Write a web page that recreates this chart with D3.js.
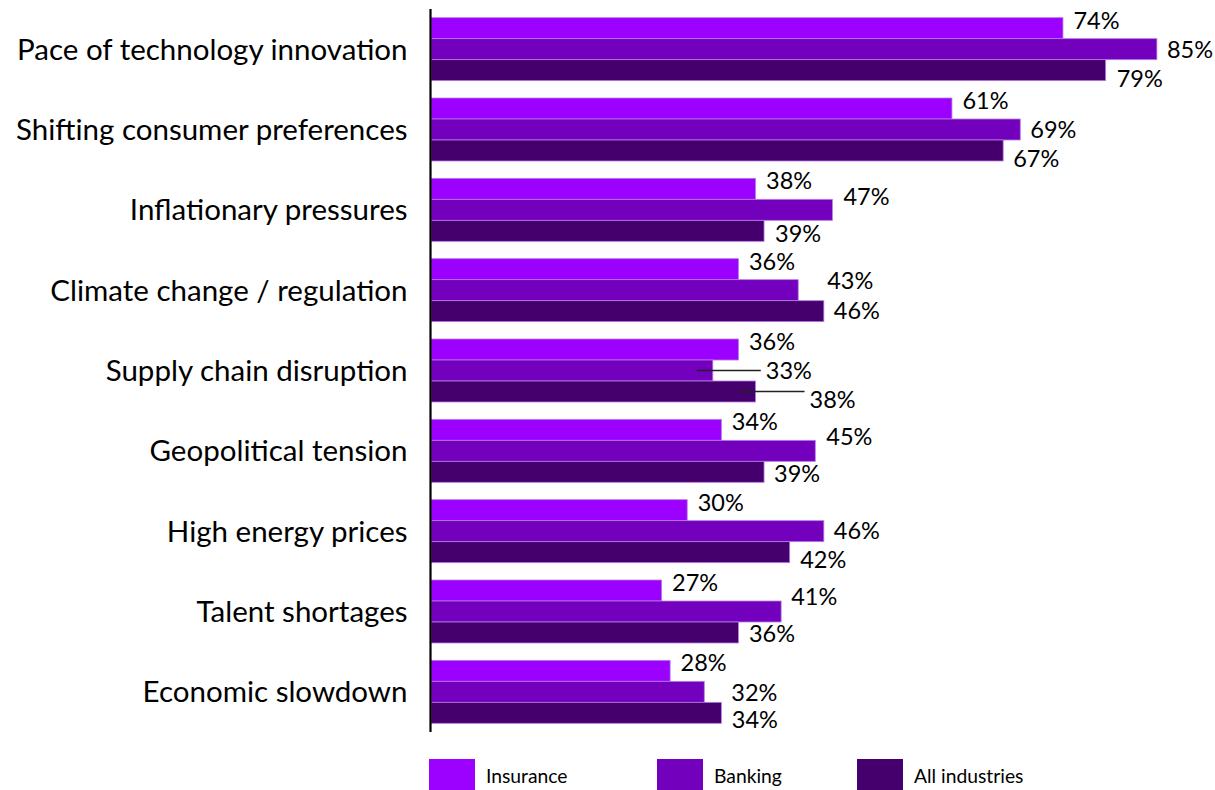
<!DOCTYPE html>
<html>
<head>
<meta charset="utf-8">
<script src="https://cdn.jsdelivr.net/npm/d3@7"></script>
<style>
  html, body { margin: 0; padding: 0; background: #fff; }
  svg { display: block; }
  text { font-family: Lato, "Open Sans", sans-serif; fill: #000; }
</style>
</head>
<body>
<svg id="chart" width="1215" height="790"></svg>
<script>
// Share of respondents citing each trend, by sector (%)
const categories = [
  "Pace of technology innovation",
  "Shifting consumer preferences",
  "Inflationary pressures",
  "Climate change / regulation",
  "Supply chain disruption",
  "Geopolitical tension",
  "High energy prices",
  "Talent shortages",
  "Economic slowdown"
];
const seriesNames = ["Insurance", "Banking", "All industries"];
const insurance     = [74, 61, 38, 36, 36, 34, 30, 27, 28];
const banking       = [85, 69, 47, 43, 33, 45, 46, 41, 32];
const allIndustries = [79, 67, 39, 46, 38, 39, 42, 36, 34];
const seriesValues = [insurance, banking, allIndustries];

// Layout
const colors = ["#9c00ff", "#7200bc", "#46006e"];
const plot = { left: 431, top: 9, bottom: 732, pxPerUnit: 8.54 };
const catLabelX = 408;

// Data-label nudges: [dx from bar end, baseline offset from bar centre]
const labelNudge = [
  categories.map(() => [10.5, 0.5]),
  [[10,8.5],[10,8.5],[11,-5],[29,-1],[53,8],[11,-6],[10,8],[10,-6.5],[27,9]],
  [[11,16.5],[10,16.5],[11,11],[10,8],[54,17],[10,10.5],[10.5,15.5],[10.5,10],[10.5,15.5]]
];
// Labels moved away from their bar get a leader line
const leaders = [[1, 4], [2, 4]];

const svg = d3.select("#chart");

const x = d3.scaleLinear().domain([0, 100]).range([plot.left, plot.left + 100 * plot.pxPerUnit]);
const y = d3.scaleBand().domain(categories).range([plot.top, plot.bottom])
  .paddingInner(0.216).paddingOuter(0.108);
const ySub = d3.scaleBand().domain(seriesNames).range([0, y.bandwidth()]);

// Bars
seriesNames.forEach((name, si) => {
  svg.append("g").selectAll("rect")
    .data(categories)
    .join("rect")
    .attr("x", x(0))
    .attr("y", c => y(c) + ySub(name))
    .attr("width", (c, i) => x(seriesValues[si][i]) - x(0))
    .attr("height", ySub.bandwidth())
    .attr("fill", colors[si])
    .attr("stroke", "#b77ce6")
    .attr("stroke-width", 0.8);
});

// Leader lines
leaders.forEach(([si, ci]) => {
  const c = categories[ci];
  const name = seriesNames[si];
  const end = x(seriesValues[si][ci]);
  const cy = y(c) + ySub(name) + ySub.bandwidth() / 2;
  svg.append("line")
    .attr("x1", end - 16).attr("x2", end + labelNudge[si][ci][0] - 5)
    .attr("y1", cy).attr("y2", cy)
    .attr("stroke", "#222").attr("stroke-width", 1.3);
});

// Value labels
seriesNames.forEach((name, si) => {
  svg.append("g").selectAll("text")
    .data(categories)
    .join("text")
    .attr("x", (c, i) => x(seriesValues[si][i]) + labelNudge[si][i][0])
    .attr("y", (c, i) => y(c) + ySub(name) + ySub.bandwidth() / 2 + labelNudge[si][i][1])
    .attr("font-size", 23.5)
    .text((c, i) => seriesValues[si][i] + "%");
});

// Category axis
const yAxis = d3.axisLeft(y).tickSize(0).tickPadding(0);
const gAxis = svg.append("g").attr("transform", `translate(${plot.left - 0.5},0)`).call(yAxis);
gAxis.select(".domain").attr("d", `M0,${plot.top}V${plot.bottom}`)
  .attr("stroke", "#000").attr("stroke-width", 2.2);
gAxis.selectAll(".tick text")
  .attr("x", catLabelX - plot.left)
  .attr("dy", "0.36em")
  .attr("font-size", 29.5)
  .attr("font-family", "Lato, 'Open Sans', sans-serif")
  .attr("fill", "#000");

// Legend
const legendX = [429, 657, 857];
const legend = svg.append("g");
seriesNames.forEach((name, si) => {
  legend.append("rect")
    .attr("x", legendX[si]).attr("y", 759)
    .attr("width", 46).attr("height", 31)
    .attr("fill", colors[si]);
  legend.append("text")
    .attr("x", legendX[si] + 57).attr("y", 783)
    .attr("font-size", 19.3)
    .text(name);
});
</script>
</body>
</html>
